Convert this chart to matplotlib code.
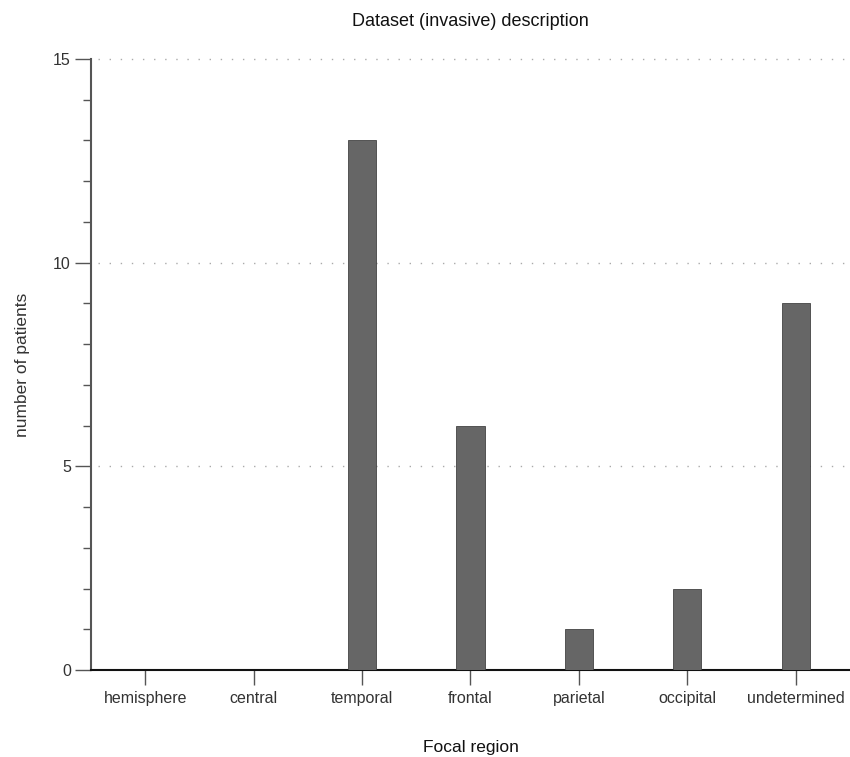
import matplotlib.pyplot as plt
from matplotlib.ticker import MultipleLocator

regions = ['hemisphere', 'central', 'temporal', 'frontal', 'parietal', 'occipital', 'undetermined']
patients = [0, 0, 13, 6, 1, 2, 9]
y_ticks = [0, 5, 10, 15]

plt.rcParams['font.family'] = ['Liberation Sans', 'DejaVu Sans']

fig = plt.figure(figsize=(8.5, 7.57), dpi=100)
ax = fig.add_axes([91 / 850, 1 - 670 / 757, 759 / 850, 611 / 757])

x = list(range(len(regions)))
ax.bar(x, patients, width=0.26, color='#666666', edgecolor='#444444', linewidth=0.6, zorder=3)

ax.set_xlim(-0.5, 6.5)
ax.set_ylim(0, 15)
ax.set_xticks(x)
ax.set_xticklabels(regions, fontsize=11.5, color='#333333')
ax.set_yticks(y_ticks)
ax.set_yticklabels([str(v) for v in y_ticks], fontsize=11.5, color='#333333')
ax.yaxis.set_minor_locator(MultipleLocator(1))

ax.tick_params(axis='y', which='major', length=11.5, width=1, color='#555555', pad=3)
ax.tick_params(axis='y', which='minor', length=5.8, width=1, color='#555555')
ax.tick_params(axis='x', which='major', length=11, width=1, color='#555555', pad=4)

for sp in ['top', 'right']:
    ax.spines[sp].set_visible(False)
ax.spines['left'].set_color('#555555')
ax.spines['left'].set_linewidth(1.5)
ax.spines['bottom'].set_color('#111111')
ax.spines['bottom'].set_linewidth(1.5)

for v in y_ticks[1:]:
    ax.plot([-0.44, 6.5], [v, v], color='#aaaaaa', linewidth=1,
            linestyle=(0, (1, 7)), zorder=1, clip_on=False)

ax.set_title('Dataset (invasive) description', fontsize=13, color='#111111', pad=24)
ax.set_ylabel('number of patients', fontsize=12.5, color='#333333')
ax.yaxis.set_label_coords(-0.08, 0.5)
ax.set_xlabel('Focal region', fontsize=12.5, color='#111111')
ax.xaxis.set_label_coords(0.5, -0.1146)

fig.savefig('out.png', dpi=100)
